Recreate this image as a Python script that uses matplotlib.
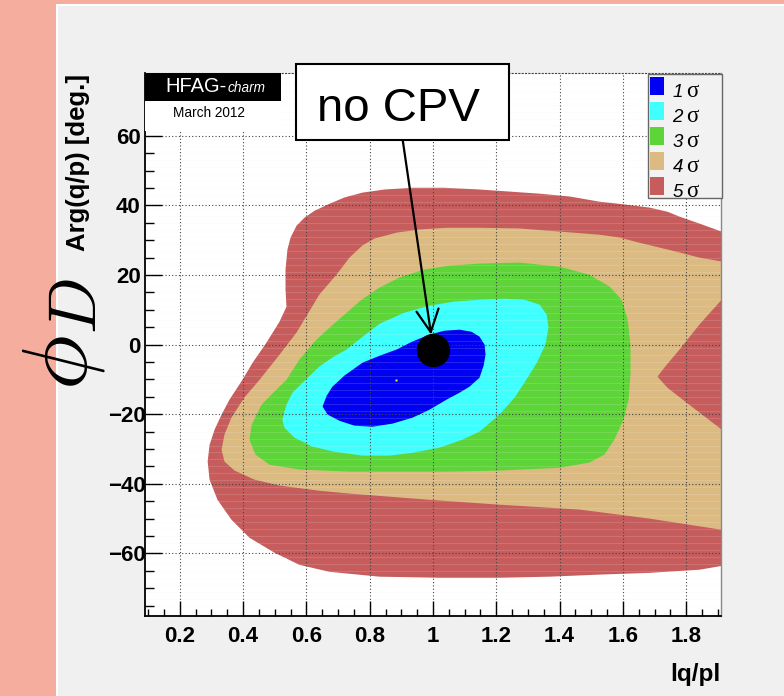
import matplotlib
matplotlib.use("Agg")
import numpy as np
import matplotlib.pyplot as plt
from matplotlib.patches import Rectangle
from matplotlib.ticker import FixedLocator, MultipleLocator
from matplotlib.transforms import ScaledTranslation

plt.rcParams['font.family'] = ['Liberation Sans', 'DejaVu Sans']

# ---- confidence regions in (|q/p|, Arg(q/p) [deg]) ----
sigma5_x = [0.537, 0.534, 0.534, 0.540, 0.550, 0.569, 0.594, 0.626, 0.673, 0.720, 0.777,
            0.847, 0.935, 1.036, 1.147, 1.242, 1.337, 1.431, 1.526, 1.605, 1.684, 1.741,
            1.779, 1.842, 1.912, 2.000, 2.000, 1.912, 1.842, 1.684, 1.526, 1.368, 1.210,
            1.021, 0.831, 0.673, 0.578, 0.499, 0.420, 0.363, 0.319, 0.294, 0.288, 0.294,
            0.310, 0.332, 0.357, 0.398, 0.430, 0.474, 0.515]
sigma5_y = [10.9, 15.8, 21.6, 27.3, 30.8, 34.2, 36.5, 38.5, 40.5, 42.3, 43.7,
            44.6, 45.1, 45.1, 44.6, 44.0, 43.4, 42.6, 41.1, 40.3, 39.4, 38.2,
            36.8, 34.8, 32.5, 29.9, -63.6, -63.6, -64.7, -65.6, -66.1, -66.7, -67.0,
            -67.0, -66.7, -65.3, -63.3, -59.8, -55.5, -50.3, -44.6, -38.8, -33.6, -28.8,
            -24.4, -20.1, -15.8, -10.1, -5.2, 0.6, 6.6]

sigma4_x = [0.452, 0.515, 0.569, 0.641, 0.695, 0.736, 0.777, 0.815, 0.885, 0.957, 1.043,
            1.147, 1.273, 1.400, 1.526, 1.589, 1.652, 1.716, 1.779, 1.842, 1.912, 2.000,
            2.000, 1.912, 1.842, 1.779, 1.731, 1.709, 1.741, 1.810, 1.912, 2.000, 2.000,
            1.912, 1.684, 1.463, 1.210, 0.989, 0.736, 0.641, 0.515, 0.436, 0.373, 0.341,
            0.332, 0.341, 0.363, 0.404]
sigma4_y = [-10.1, -2.9, 3.5, 14.4, 20.1, 25.0, 28.5, 30.5, 32.2, 33.1, 33.6,
            33.6, 33.4, 32.5, 31.6, 30.8, 29.3, 27.9, 26.5, 25.0, 23.9, 22.7,
            14.4, 12.9, 5.8, -1.4, -6.6, -9.2, -12.4, -17.3, -24.4, -27.3, -53.2,
            -53.2, -50.0, -47.4, -46.0, -44.6, -42.8, -42.0, -40.5, -38.8, -36.2, -33.6,
            -30.2, -25.9, -21.0, -15.2]

sigma3_x = [0.537, 0.578, 0.626, 0.673, 0.720, 0.774, 0.831, 0.894, 0.973, 1.052, 1.147,
            1.273, 1.400, 1.494, 1.558, 1.596, 1.615, 1.624, 1.624, 1.618, 1.602, 1.573,
            1.542, 1.494, 1.400, 1.210, 1.052, 0.894, 0.736, 0.578, 0.483, 0.439, 0.420,
            0.427, 0.458, 0.499]
sigma3_y = [-10.1, -4.3, 0.9, 4.9, 8.6, 12.9, 16.4, 19.3, 21.6, 22.7, 23.3,
            23.6, 22.4, 20.1, 16.7, 12.9, 7.2, 0.0, -8.6, -15.8, -21.6, -27.3,
            -31.6, -33.9, -35.4, -36.2, -36.5, -36.5, -36.5, -35.9, -34.5, -31.6, -27.3,
            -23.0, -17.3, -13.5]

sigma2_x = [0.524, 0.537, 0.556, 0.594, 0.641, 0.682, 0.727, 0.774, 0.831, 0.910, 0.989,
            1.068, 1.147, 1.226, 1.289, 1.337, 1.359, 1.365, 1.355, 1.330, 1.299, 1.258,
            1.210, 1.147, 1.093, 1.021, 0.935, 0.863, 0.777, 0.689, 0.619, 0.562, 0.531]
sigma2_y = [-21.6, -17.3, -13.8, -10.4, -6.3, -3.7, -1.4, 2.0, 6.0, 9.2, 11.2,
            12.4, 12.9, 13.2, 12.9, 11.5, 8.6, 4.9, 0.0, -4.9, -9.5, -15.2,
            -20.1, -25.0, -27.3, -29.6, -31.1, -31.9, -31.9, -30.8, -29.3, -26.7, -23.9]

sigma1_x = [0.651, 0.664, 0.682, 0.720, 0.777, 0.831, 0.885, 0.935, 0.989, 1.036, 1.084,
            1.122, 1.147, 1.163, 1.166, 1.160, 1.147, 1.115, 1.084, 1.043, 0.989, 0.935,
            0.872, 0.809, 0.752, 0.705, 0.667]
sigma1_y = [-17.8, -14.7, -12.1, -8.9, -5.2, -3.2, -1.4, 0.9, 2.9, 4.0, 4.3,
            3.7, 2.3, 0.0, -2.9, -6.0, -9.5, -12.1, -13.8, -15.8, -18.7, -21.0,
            -22.7, -23.6, -23.3, -21.9, -20.1]

regions_x = [sigma5_x, sigma4_x, sigma3_x, sigma2_x, sigma1_x]
regions_y = [sigma5_y, sigma4_y, sigma3_y, sigma2_y, sigma1_y]
region_colors = ['#c65c5c', '#dcbb83', '#5dd538', '#40ffff', '#0000f2']
legend_numbers = ['1', '2', '3', '4', '5']

best_fit = (0.884, -10.3)
no_cpv = (1.0, -1.5)
arrow_tip = (0.994, 2.9)

x_ticks = [0.2, 0.4, 0.6, 0.8, 1.0, 1.2, 1.4, 1.6, 1.8]
x_ticklabels = ['0.2', '0.4', '0.6', '0.8', '1', '1.2', '1.4', '1.6', '1.8']
y_ticks = [-60, -40, -20, 0, 20, 40, 60]
y_ticklabels = ['\u221260', '\u221240', '\u221220', '0', '20', '40', '60']

W, H = 784, 696


def fx(px):
    return px / W


def fy(py):
    return (H - py) / H


fig = plt.figure(figsize=(W / 100, H / 100), dpi=100, facecolor='#f5ae9e')
fig.patches.append(Rectangle((fx(56), 0), 1, fy(4), transform=fig.transFigure,
                             facecolor='white', edgecolor='none', zorder=-20))
fig.patches.append(Rectangle((fx(58), 0), 1, fy(6), transform=fig.transFigure,
                             facecolor='#f0f0f0', edgecolor='none', zorder=-10))

ax_l, ax_r, ax_t, ax_b = 145, 721, 73.3, 616
ax = fig.add_axes([fx(ax_l), fy(ax_b), fx(ax_r) - fx(ax_l), fy(ax_t) - fy(ax_b)])
ax.set_facecolor('white')
ax.set_xlim(0.09, 1.91)
ax.set_ylim(-78, 78)

for xs, ys, c in zip(regions_x, regions_y, region_colors):
    ax.fill(xs, ys, color=c, linewidth=0, zorder=1)

# faint cell seams of the binned likelihood map
ax.hlines(np.arange(-77, 78, 2), 0.09, 1.91, colors='#f0f0f0', linewidth=0.6,
          alpha=0.18, zorder=1.5)

ax.set_axisbelow(False)
ax.grid(True, which='major', linestyle=(0, (1, 2)), color='#444444', linewidth=0.8)

ax.xaxis.set_major_locator(FixedLocator(x_ticks))
ax.set_xticklabels(x_ticklabels)
ax.xaxis.set_minor_locator(MultipleLocator(0.05))
ax.yaxis.set_major_locator(FixedLocator(y_ticks))
ax.set_yticklabels(y_ticklabels)
ax.yaxis.set_minor_locator(MultipleLocator(5))

ax.tick_params(axis='x', which='major', direction='in', length=11, width=1, pad=7,
               labelsize=16, top=False)
ax.tick_params(axis='x', which='minor', direction='in', length=5, width=1, top=False)
ax.tick_params(axis='y', which='major', direction='in', length=12.5, width=1, pad=3,
               labelsize=16, right=False)
ax.tick_params(axis='y', which='minor', direction='in', length=6.5, width=1, right=False)
for lab in ax.get_xticklabels() + ax.get_yticklabels():
    lab.set_fontweight('bold')
# negative labels sit a little closer to the axis
shift = ScaledTranslation(5 / 100, 0, fig.dpi_scale_trans)
for lab in ax.get_yticklabels():
    if lab.get_text().startswith('\u2212'):
        lab.set_transform(lab.get_transform() + shift)

ax.spines['left'].set_linewidth(1.3)
ax.spines['bottom'].set_linewidth(1.3)
ax.spines['right'].set_color('#888888')
ax.spines['right'].set_linewidth(1)
ax.spines['top'].set_linestyle((0, (1, 2)))
ax.spines['top'].set_color('#444444')
ax.spines['top'].set_linewidth(0.8)

# markers
ax.plot(*no_cpv, 'o', ms=23, color='black', zorder=5)
ax.plot(*best_fit, 's', ms=1.6, color='#ffff00', mec='none', zorder=5)

# legend box
fig.patches.append(Rectangle((fx(647.7), fy(198.3)), fx(721.7) - fx(647.7),
                             fy(74) - fy(198.3), transform=fig.transFigure,
                             facecolor='#f2f2f2', edgecolor='#666666', linewidth=1,
                             zorder=6))
for i, (num, c) in enumerate(zip(legend_numbers, region_colors[::-1])):
    top = 77.3 + 25 * i
    base = 96.7 + 25 * i
    fig.patches.append(Rectangle((fx(650), fy(top + 17.7)), fx(664) - fx(650),
                                 fy(top) - fy(top + 17.7), transform=fig.transFigure,
                                 facecolor=c, edgecolor='none', zorder=7))
    fig.text(fx(672.5), fy(base), num, fontsize=13.5, style='italic', ha='left',
             va='baseline', zorder=7)
    fig.text(fx(686.5), fy(base), '\u03c3', fontsize=16.5, family='Liberation Serif',
             ha='left', va='baseline', zorder=7)

# HFAG banner
fig.patches.append(Rectangle((fx(145), fy(101)), fx(280.7) - fx(145), fy(73.3) - fy(101),
                             transform=fig.transFigure, facecolor='black', edgecolor='none',
                             zorder=6))
fig.patches.append(Rectangle((fx(145), fy(131)), fx(280.7) - fx(145), fy(101) - fy(131),
                             transform=fig.transFigure, facecolor='white', edgecolor='none',
                             zorder=6))
fig.text(fx(227), fy(91.7), 'HFAG-', color='white', fontsize=14.5, ha='right', va='baseline',
         zorder=7)
fig.text(fx(228), fy(91.7), 'charm', color='white', fontsize=9.8, style='italic', ha='left',
         va='baseline', zorder=7)
fig.text(fx(209), fy(117), 'March 2012', color='black', fontsize=9.8, ha='center',
         va='baseline', zorder=7)

# "no CPV" callout
fig.patches.append(Rectangle((fx(296), fy(140)), fx(509) - fx(296), fy(64) - fy(140),
                             transform=fig.transFigure, facecolor='white', edgecolor='black',
                             linewidth=1.5, zorder=6))
fig.text(fx(398), fy(121), 'no CPV', fontsize=34, ha='center', va='baseline', zorder=7)
ax.annotate('', xy=arrow_tip, xycoords='data', xytext=(402.7, H - 140),
            textcoords='figure pixels',
            arrowprops=dict(arrowstyle='->,head_length=0.8,head_width=0.4', lw=1.6,
                            color='black', mutation_scale=20, shrinkA=0, shrinkB=0),
            zorder=7)

# axis titles
fig.text(fx(78), fy(74), 'Arg(q/p) [deg.]', rotation=90, fontsize=18.5, fontweight='bold',
         ha='center', va='top')
fig.text(fx(720), fy(674), 'lq/pl', fontsize=17.5, fontweight='bold', ha='right',
         va='center')
fig.text(fx(64), fy(363), r'$\phi$', rotation=90, fontsize=66, math_fontfamily='cm',
         ha='center', va='center', zorder=8)
fig.text(fx(79), fy(306), r'$D$', rotation=90, fontsize=48, math_fontfamily='cm',
         ha='center', va='center', zorder=8)

fig.savefig('out.png', dpi=100, facecolor=fig.get_facecolor())
